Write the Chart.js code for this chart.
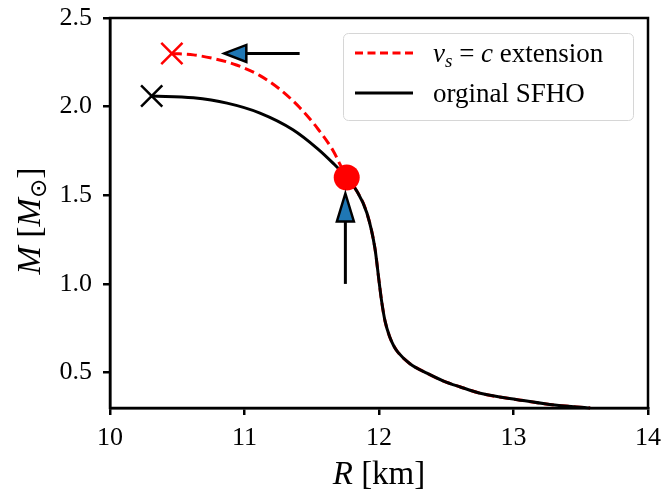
<!DOCTYPE html>
<html>
<head>
<meta charset="utf-8">
<script src="https://cdn.jsdelivr.net/npm/chart.js@4/dist/chart.umd.min.js"></script>
<style>
    html, body { margin: 0; padding: 0; background: #ffffff; }
    #wrap { width: 666px; height: 499px; position: relative; }
</style>
</head>
<body>
<div id="wrap"><canvas id="mr-chart"></canvas></div>
<script>
// lower branch, shared by both curves (from the red dot downwards)
const radiusLower = [11.76, 11.83, 11.91, 11.97, 12.00, 12.02, 12.045, 12.08, 12.11, 12.14, 12.23, 12.36, 12.48, 12.60, 12.77, 13.03, 13.27, 13.57];
const massLower = [1.60, 1.53, 1.40, 1.20, 1.017, 0.90, 0.79, 0.70, 0.65, 0.615, 0.55, 0.495, 0.452, 0.42, 0.38, 0.347, 0.32, 0.30];
// original SFHO upper branch
const radiusSfho = [10.31, 10.62, 10.87, 11.115, 11.36, 11.54, 11.66];
const massSfho = [2.06, 2.05, 2.02, 1.964, 1.87, 1.765, 1.68];
// vs = c extension upper branch
const radiusExt = [10.46, 10.62, 10.79, 10.94, 11.115, 11.26, 11.41, 11.54, 11.66];
const massExt = [2.30, 2.292, 2.268, 2.235, 2.175, 2.10, 1.995, 1.88, 1.75];
// arrows: tail -> tip
const arrowTailR = [11.41, 11.75];
const arrowTailM = [2.30, 1.00];
const arrowTipR = [10.85, 11.75];
const arrowTipM = [2.30, 1.51];

const xTicks = [10, 11, 12, 13, 14];
const yTicks = [0.5, 1.0, 1.5, 2.0, 2.5];
const legendLabels = ["extension", "orginal SFHO"];

const SERIF = "'Liberation Serif', 'DejaVu Serif', serif";
const ARROWBLUE = "#1f77b4";

function toPoints(rs, ms) {
    return rs.map((r, i) => ({x: r, y: ms[i]}));
}

const blackCurve = toPoints(radiusSfho.concat(radiusLower), massSfho.concat(massLower));
const redCurve = toPoints(radiusExt.concat(radiusLower), massExt.concat(massLower));

// draws runs of text with different fonts one after another
function drawRuns(ctx, runs, x, y, align) {
    let total = 0;
    runs.forEach(run => {
        ctx.font = run.font;
        total += ctx.measureText(run.text).width;
    });
    let cx = align === "center" ? x - total / 2 : x;
    runs.forEach(run => {
        ctx.font = run.font;
        ctx.fillText(run.text, cx, y + (run.dy || 0));
        cx += ctx.measureText(run.text).width;
    });
}

const extrasPlugin = {
    id: "extras",
    afterDatasetsDraw(chart) {
        const ctx = chart.ctx;
        const xs = chart.scales.x;
        const ys = chart.scales.y;
        const area = chart.chartArea;

        // arrows
        for (let i = 0; i < arrowTailR.length; i++) {
            const x0 = xs.getPixelForValue(arrowTailR[i]);
            const y0 = ys.getPixelForValue(arrowTailM[i]);
            const x1 = xs.getPixelForValue(arrowTipR[i]);
            const y1 = ys.getPixelForValue(arrowTipM[i]);
            const len = Math.hypot(x1 - x0, y1 - y0);
            const ux = (x1 - x0) / len, uy = (y1 - y0) / len;
            const headLen = i === 0 ? 22 : 28;
            const headHalf = 8.5;
            const bx = x1 - ux * headLen, by = y1 - uy * headLen;
            ctx.save();
            ctx.strokeStyle = "#000000";
            ctx.lineWidth = 3;
            ctx.beginPath();
            ctx.moveTo(x0, y0);
            ctx.lineTo(bx, by);
            ctx.stroke();
            ctx.beginPath();
            ctx.moveTo(x1, y1);
            ctx.lineTo(bx - uy * headHalf, by + ux * headHalf);
            ctx.lineTo(bx + uy * headHalf, by - ux * headHalf);
            ctx.closePath();
            ctx.fillStyle = ARROWBLUE;
            ctx.fill();
            ctx.lineWidth = 2.5;
            ctx.lineJoin = "miter";
            ctx.stroke();
            ctx.restore();
        }

        // legend
        ctx.save();
        const lx = 343, ly = 33, lw = 290, lh = 87;
        ctx.beginPath();
        ctx.roundRect(lx + 0.5, ly + 0.5, lw, lh, 5);
        ctx.fillStyle = "rgba(255,255,255,0.8)";
        ctx.fill();
        ctx.strokeStyle = "#d6d6d6";
        ctx.lineWidth = 1;
        ctx.stroke();

        ctx.lineWidth = 3;
        ctx.strokeStyle = "#ff0000";
        ctx.setLineDash([8, 4.5]);
        ctx.beginPath();
        ctx.moveTo(355, 53);
        ctx.lineTo(413, 53);
        ctx.stroke();
        ctx.setLineDash([]);
        ctx.strokeStyle = "#000000";
        ctx.beginPath();
        ctx.moveTo(355, 93);
        ctx.lineTo(413, 93);
        ctx.stroke();

        ctx.fillStyle = "#000000";
        ctx.textBaseline = "alphabetic";
        ctx.textAlign = "left";
        drawRuns(ctx, [
            {text: "v", font: "italic 27px " + SERIF},
            {text: "s", font: "italic 19px " + SERIF, dy: 5},
            {text: " = ", font: "27px " + SERIF},
            {text: "c", font: "italic 27px " + SERIF},
            {text: " " + legendLabels[0], font: "27px " + SERIF}
        ], 433, 62, "left");
        drawRuns(ctx, [{text: legendLabels[1], font: "27px " + SERIF}], 433, 102, "left");

        // axis titles
        drawRuns(ctx, [
            {text: "R", font: "italic 33px " + SERIF},
            {text: " [km]", font: "33px " + SERIF}
        ], (area.left + area.right) / 2, 484, "center");

        ctx.translate(40, 221);
        ctx.rotate(-Math.PI / 2);
        drawRuns(ctx, [
            {text: "M", font: "italic 34px " + SERIF},
            {text: " [", font: "34px " + SERIF},
            {text: "M", font: "italic 34px " + SERIF},
            {text: "\u2299", font: "23px 'DejaVu Sans', sans-serif", dy: 6},
            {text: "]", font: "34px " + SERIF}
        ], 0, 0, "center");
        ctx.restore();

        // frame
        ctx.save();
        ctx.strokeStyle = "#000000";
        ctx.lineWidth = 2.5;
        ctx.strokeRect(area.left, area.top, area.right - area.left, area.bottom - area.top);
        ctx.restore();
    }
};

const ctx = document.querySelector("#mr-chart").getContext("2d");
const configuration = {
    type: "scatter",
    data: {
        datasets: [
            {
                label: "dot",
                data: [{x: radiusLower[0], y: massLower[0]}],
                pointStyle: "circle",
                pointRadius: 13,
                pointBackgroundColor: "#ff0000",
                pointBorderWidth: 0,
                order: 0
            },
            {
                label: "sfho max",
                data: [{x: radiusSfho[0], y: massSfho[0]}],
                pointStyle: "crossRot",
                pointRadius: 15,
                pointBorderColor: "#000000",
                pointBorderWidth: 2.5,
                order: 1
            },
            {
                label: "ext max",
                data: [{x: radiusExt[0], y: massExt[0]}],
                pointStyle: "crossRot",
                pointRadius: 15,
                pointBorderColor: "#ff0000",
                pointBorderWidth: 2.5,
                order: 1
            },
            {
                label: "orginal SFHO",
                data: blackCurve,
                showLine: true,
                borderColor: "#000000",
                borderWidth: 3,
                pointRadius: 0,
                cubicInterpolationMode: "monotone",
                order: 2
            },
            {
                label: "extension",
                data: redCurve,
                showLine: true,
                borderColor: "#ff0000",
                borderWidth: 3,
                borderDash: [10, 5],
                pointRadius: 0,
                cubicInterpolationMode: "monotone",
                order: 3
            }
        ]
    },
    options: {
        responsive: true,
        maintainAspectRatio: false,
        animation: false,
        devicePixelRatio: 1,
        clip: false,
        layout: {
            padding: {top: 18, right: 18, left: 0, bottom: 0}
        },
        plugins: {
            legend: {display: false},
            tooltip: {enabled: false}
        },
        scales: {
            x: {
                type: "linear",
                min: 10,
                max: 14,
                afterBuildTicks: scale => { scale.ticks = xTicks.map(v => ({value: v})); },
                afterFit: scale => {
                    scale.height = 91;
                    scale.paddingLeft = 0;
                    scale.paddingRight = 0;
                },
                grid: {drawOnChartArea: false, drawTicks: true, tickLength: 7, color: "#000000", lineWidth: 2.5},
                border: {display: true, color: "#000000", width: 2.5},
                ticks: {
                    color: "#000000",
                    padding: 8,
                    font: {family: SERIF, size: 26},
                    callback: v => String(v)
                }
            },
            y: {
                type: "linear",
                min: 0.3,
                max: 2.5,
                afterBuildTicks: scale => { scale.ticks = yTicks.map(v => ({value: v})); },
                afterFit: scale => {
                    scale.width = 110;
                    scale.paddingTop = 0;
                    scale.paddingBottom = 0;
                },
                grid: {drawOnChartArea: false, drawTicks: true, tickLength: 7, color: "#000000", lineWidth: 2.5},
                border: {display: true, color: "#000000", width: 2.5},
                ticks: {
                    color: "#000000",
                    padding: 11,
                    font: {family: SERIF, size: 26},
                    callback: v => v.toFixed(1)
                }
            }
        }
    },
    plugins: [extrasPlugin]
};
new Chart(ctx, configuration);
</script>
</body>
</html>
